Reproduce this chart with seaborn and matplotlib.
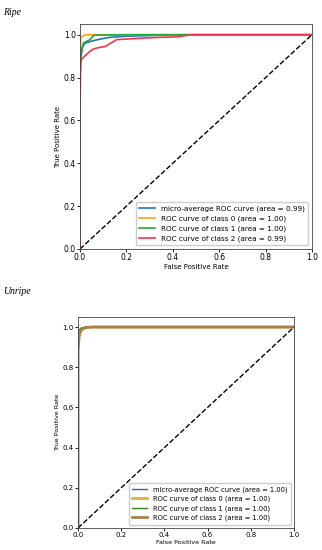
import matplotlib
matplotlib.use("Agg")
import matplotlib.pyplot as plt
import seaborn as sns
import pandas as pd

# ROC points (fpr, tpr)
ripe_labels = ["micro-average ROC curve (area = 0.99)",
               "ROC curve of class 0 (area = 1.00)",
               "ROC curve of class 1 (area = 1.00)",
               "ROC curve of class 2 (area = 0.99)"]
ripe_fpr = [
    [0, 0, 0.003, 0.01, 0.02, 0.05, 0.08, 0.13, 0.2, 0.3, 0.45, 1.0],
    [0, 0, 0.003, 0.01, 0.02, 0.03, 1.0],
    [0, 0, 0.005, 0.014, 0.03, 0.043, 0.06, 0.2, 0.45, 1.0],
    [0, 0, 0.005, 0.02, 0.04, 0.057, 0.08, 0.108, 0.158, 0.25, 0.35, 0.42, 0.48, 1.0],
]
ripe_tpr = [
    [0, 0.65, 0.88, 0.94, 0.96, 0.97, 0.978, 0.988, 0.993, 0.996, 1.0, 1.0],
    [0, 0.93, 0.985, 0.993, 0.998, 1.0, 1.0],
    [0, 0.8, 0.92, 0.96, 0.97, 0.977, 0.998, 1.0, 1.0, 1.0],
    [0, 0.86, 0.883, 0.9, 0.92, 0.933, 0.94, 0.945, 0.977, 0.983, 0.988, 0.99, 1.0, 1.0],
]
ripe_colors = ["#1f77b4", "#ff9e0f", "#22a832", "#f8334e"]
ripe_widths = [1.2, 1.2, 1.2, 1.2]

unripe_labels = ["micro-average ROC curve (area = 1.00)",
                 "ROC curve of class 0 (area = 1.00)",
                 "ROC curve of class 1 (area = 1.00)",
                 "ROC curve of class 2 (area = 1.00)"]
unripe_fpr = [
    [0, 0, 0.005, 0.01, 0.02, 0.05, 1.0],
    [0, 0, 0.005, 0.015, 0.03, 0.06, 1.0],
    [0, 0, 0.005, 0.015, 0.04, 1.0],
    [0, 0, 0.005, 0.01, 0.02, 0.04, 0.07, 1.0],
]
unripe_tpr = [
    [0, 0.9, 0.97, 0.985, 0.995, 1.0, 1.0],
    [0, 0.92, 0.975, 0.99, 0.998, 1.0, 1.0],
    [0, 0.95, 0.985, 0.995, 1.0, 1.0],
    [0, 0.88, 0.95, 0.975, 0.99, 0.998, 1.0, 1.0],
]
unripe_colors = ["#3b5bc8", "#d8b53c", "#3d7d1c", "#a8824e"]
unripe_widths = [1.0, 2.0, 1.0, 2.0]


def draw_roc(ax, labels, fprs, tprs, colors, widths, tick_fs, lab_fs, leg_fs):
    for lab, f, t, c, w in zip(labels, fprs, tprs, colors, widths):
        d = pd.DataFrame({"fpr": f, "tpr": t})
        sns.lineplot(data=d, x="fpr", y="tpr", ax=ax, color=c, lw=w,
                     label=lab, sort=False, estimator=None)
    ax.plot([0, 1], [0, 1], "k--", lw=1)
    ax.set_xlim(0.0, 1.0)
    ax.set_ylim(0.0, 1.05)
    ax.set_xlabel("False Positive Rate", fontsize=lab_fs, labelpad=1)
    ax.set_ylabel("True Positive Rate", fontsize=lab_fs, labelpad=2)
    ax.tick_params(labelsize=tick_fs, length=2, pad=1, width=0.6)
    for s in ax.spines.values():
        s.set_linewidth(0.6)
        s.set_color("#444444")
    ax.legend(loc="lower right", fontsize=leg_fs, handlelength=2.2,
              borderpad=0.5, labelspacing=0.45, framealpha=1)


fig = plt.figure(figsize=(3.22, 5.5), dpi=100)

ax1 = fig.add_axes([80 / 322, 1 - 249 / 550, 232 / 322, 225 / 550])
draw_roc(ax1, ripe_labels, ripe_fpr, ripe_tpr, ripe_colors, ripe_widths,
         5.5, 5.0, 5.2)

ax2 = fig.add_axes([78 / 322, 1 - 528 / 550, 216 / 322, 211 / 550])
draw_roc(ax2, unripe_labels, unripe_fpr, unripe_tpr, unripe_colors, unripe_widths,
         5.0, 4.6, 4.9)

fig.text(3 / 322, 1 - 15 / 550, "Ripe", fontsize=7, style="italic",
         family="Liberation Serif", va="baseline")
fig.text(3 / 322, 1 - 294 / 550, "Unripe", fontsize=7, style="italic",
         family="Liberation Serif", va="baseline")

fig.savefig("out.png", dpi=100)
